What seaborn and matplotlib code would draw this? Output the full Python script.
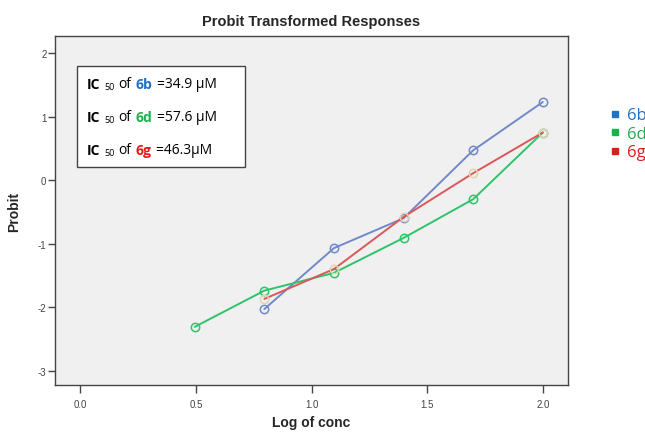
import numpy as np
import pandas as pd
import matplotlib
matplotlib.use("Agg")
import matplotlib.pyplot as plt
import seaborn as sns
from matplotlib.lines import Line2D
from matplotlib.offsetbox import TextArea, HPacker, VPacker, AnchoredOffsetbox

# data
log_conc_6b = [0.796, 1.097, 1.398, 1.699, 2.0]
probit_6b = [-2.03, -1.07, -0.60, 0.47, 1.23]

log_conc_6d = [0.495, 0.796, 1.097, 1.398, 1.699, 2.0]
probit_6d = [-2.31, -1.74, -1.46, -0.91, -0.30, 0.75]

log_conc_6g = [0.796, 1.097, 1.398, 1.699, 2.0]
probit_6g = [-1.87, -1.40, -0.58, 0.11, 0.75]

compounds = ["6b", "6d", "6g"]
ic50_text = ["=34.9 µM", "=57.6 µM", "=46.3µM"]

line_colors = {"6b": "#7189c9", "6d": "#2ec46a", "6g": "#d9585a"}
marker_edges = {"6b": "#7189c9", "6d": "#2ec46a", "6g": "#e3d3b0"}
label_colors = {"6b": "#1f72c6", "6d": "#1fb04c", "6g": "#e01b1b"}

frames = []
for name, xs, ys in [("6b", log_conc_6b, probit_6b),
                     ("6d", log_conc_6d, probit_6d),
                     ("6g", log_conc_6g, probit_6g)]:
    frames.append(pd.DataFrame({"logc": xs, "probit": ys, "cmp": name}))
df = pd.concat(frames)

sns.set_style("ticks")
plt.rcParams['font.family'] = ['Liberation Sans', 'DejaVu Sans']

fig = plt.figure(figsize=(6.45, 4.35), dpi=100)
ax = fig.add_axes([0.085, 0.112, 0.796, 0.803])
ax.set_facecolor("#f0f0f0")

for name in compounds:
    sub = df[df["cmp"] == name]
    sns.lineplot(data=sub, x="logc", y="probit", color=line_colors[name],
                 marker="o", markersize=6, markerfacecolor="none",
                 markeredgecolor=marker_edges[name], markeredgewidth=1.1,
                 linewidth=1.4, ax=ax, legend=False)

ax.set_xlim(-0.11, 2.11)
ax.set_ylim(-3.23, 2.27)
ax.set_xticks([0.0, 0.5, 1.0, 1.5, 2.0])
ax.set_xticklabels(["0.0", "0.5", "1.0", "1.5", "2.0"])
ax.set_yticks([-3, -2, -1, 0, 1, 2])
ax.set_yticklabels(["-3", "-2", "-1", "0", "1", "2"])
ax.tick_params(axis="both", labelsize=7, labelcolor="#444444", color="#444444", width=1)
ax.tick_params(axis="x", length=6, pad=4)
ax.tick_params(axis="y", length=5, pad=1)
for s in ax.spines.values():
    s.set_color("#444444")
    s.set_linewidth(1)

ax.set_title("Probit Transformed Responses", fontsize=10.5, fontweight="bold", pad=8)
ax.set_xlabel("Log of conc", fontsize=10, fontweight="bold", labelpad=4)
ax.set_ylabel("Probit", fontsize=10, fontweight="bold", labelpad=12)

# IC50 box
rows = []
for name, txt in zip(compounds, ic50_text):
    parts = [
        TextArea("IC", textprops=dict(fontsize=10, fontweight="bold", color="black", family="Open Sans")),
        TextArea("50", textprops=dict(fontsize=6.5, color="black", family="Open Sans")),
        TextArea("of", textprops=dict(fontsize=10, color="black", family="Open Sans")),
        TextArea(name, textprops=dict(fontsize=10, fontweight="bold", color=label_colors[name], family="Open Sans")),
        TextArea(txt + "     ", textprops=dict(fontsize=10, color="black", family="Open Sans")),
    ]
    rows.append(HPacker(children=parts, align="bottom", pad=0, sep=3))
box = VPacker(children=rows, align="left", pad=0, sep=13)
anch = AnchoredOffsetbox(loc="upper left", child=box, pad=0.7, borderpad=0,
                         frameon=True, bbox_to_anchor=(0.043, 0.914),
                         bbox_transform=ax.transAxes)
anch.patch.set_edgecolor("#444444")
anch.patch.set_linewidth(1)
anch.patch.set_boxstyle("square", pad=0)
ax.add_artist(anch)

# legend outside on the right
handles = [Line2D([], [], marker="s", linestyle="none", markersize=4,
                  color=label_colors[n]) for n in compounds]
fig.legend(handles, compounds, loc="upper left", bbox_to_anchor=(0.93, 0.77),
           frameon=False, borderpad=0, handletextpad=0.3, handlelength=0.8,
           labelspacing=0.15, labelcolor=[label_colors[n] for n in compounds],
           prop={"family": "Open Sans", "size": 12})

fig.savefig("out.png", dpi=100)
